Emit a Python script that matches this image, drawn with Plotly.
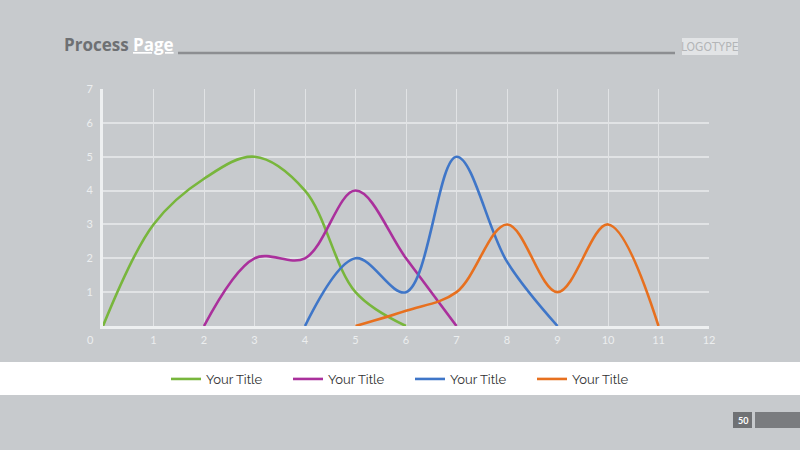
import plotly.graph_objects as go

# ---- data ----
green_x = [0, 1, 2, 3, 4, 5, 6]
green_y = [0, 3, 4.35, 5, 4, 1, 0]
purple_x = [2, 3, 4, 5, 6, 7]
purple_y = [0, 2, 2, 4, 2, 0]
blue_x = [4, 5, 6, 7, 8, 9]
blue_y = [0, 2, 1, 5, 1.9, 0]
orange_x = [5, 6, 7, 8, 9, 10, 11]
orange_y = [0, 0.45, 1, 3, 1, 3, 0]
series_names = ["Your Title", "Your Title", "Your Title", "Your Title"]
x_ticks = list(range(1, 13))
y_ticks = list(range(1, 8))

BG = "#c7cacd"
FONT = "Lato, 'Open Sans', sans-serif"
TICK_COL = "#eceeef"
GRID_COL = "#e1e3e5"

fig = go.Figure()
for xs, ys, col, name in [
    (green_x, green_y, "#78b63c", series_names[0]),
    (purple_x, purple_y, "#aa309c", series_names[1]),
    (blue_x, blue_y, "#3f76c8", series_names[2]),
    (orange_x, orange_y, "#e7701f", series_names[3]),
]:
    fig.add_trace(go.Scatter(x=xs, y=ys, mode="lines", name=name,
                             line=dict(color=col, width=2.6, shape="spline", smoothing=1.0),
                             cliponaxis=False))

fig.update_layout(
    width=800, height=450,
    margin=dict(l=0, r=0, t=0, b=0, pad=0, autoexpand=False),
    paper_bgcolor=BG, plot_bgcolor=BG,
    font=dict(family=FONT),
    showlegend=True,
    legend=dict(orientation="h", x=0.5125, xanchor="center", y=(450 - 379) / 450, yanchor="middle",
                bgcolor="rgba(0,0,0,0)", font=dict(size=13, color="#333333", family="Raleway, Lato, sans-serif"),
                entrywidth=77, entrywidthmode="pixels", itemwidth=30),
    xaxis=dict(domain=[103 / 800, 709 / 800], range=[0, 12], tickvals=x_ticks, automargin=False,
               showgrid=False, zeroline=False, showline=True, linecolor="#eef0f1", linewidth=3,
               ticks="outside", ticklen=2, tickcolor="rgba(0,0,0,0)",
               tickfont=dict(size=11, color=TICK_COL, family=FONT),
               minor=dict(tickvals=list(range(1, 12)), showgrid=True, gridcolor=GRID_COL, gridwidth=1.2,
                          ticks="")),
    yaxis=dict(domain=[(450 - 326) / 450, (450 - 89) / 450], range=[0, 7], tickvals=y_ticks, automargin=False,
               showgrid=False, zeroline=False, showline=True, linecolor="#eef0f1", linewidth=3,
               ticks="outside", ticklen=5, tickcolor="rgba(0,0,0,0)",
               tickfont=dict(size=11, color=TICK_COL, family=FONT),
               minor=dict(tickvals=list(range(1, 7)), showgrid=True, gridcolor=GRID_COL, gridwidth=1.6,
                          ticks="")),
)

shapes = [
    # legend band
    dict(type="rect", xref="paper", yref="paper", x0=0, x1=1, y0=(450 - 395) / 450, y1=(450 - 362) / 450,
         fillcolor="#ffffff", line=dict(width=0), layer="below"),
    # header line
    dict(type="line", xref="paper", yref="paper", x0=178 / 800, x1=675 / 800,
         y0=(450 - 53) / 450, y1=(450 - 53) / 450, line=dict(color="#8c8e91", width=2.5)),
    # logotype box
    dict(type="rect", xref="paper", yref="paper", x0=682 / 800, x1=738 / 800,
         y0=(450 - 55) / 450, y1=(450 - 38) / 450, fillcolor="#e2e4e6", line=dict(width=0)),
    # page number box
    dict(type="rect", xref="paper", yref="paper", x0=733 / 800, x1=752 / 800,
         y0=(450 - 428) / 450, y1=(450 - 412) / 450, fillcolor="#6f7174", line=dict(width=0)),
    dict(type="rect", xref="paper", yref="paper", x0=755 / 800, x1=1,
         y0=(450 - 428) / 450, y1=(450 - 412) / 450, fillcolor="#7a7c7f", line=dict(width=0)),
]
fig.update_layout(shapes=shapes)

annotations = [
    dict(xref="paper", yref="paper", x=62 / 800, y=(450 - 45) / 450, xanchor="left", yanchor="middle",
         showarrow=False,
         text="<b><span style='color:#6e7073'>Process</span> <span style='color:#ffffff'><u>Page</u></span></b>",
         font=dict(size=17, family="'Open Sans', Lato, sans-serif", weight=800)),
    dict(xref="paper", yref="paper", x=710 / 800, y=(450 - 46.5) / 450, xanchor="center", yanchor="middle",
         showarrow=False, text="LOGOTYPE",
         font=dict(size=12, color="#b3b5b7", family="DejaVu Sans Condensed, Roboto, sans-serif")),
    dict(xref="paper", yref="paper", x=742.5 / 800, y=(450 - 420) / 450, xanchor="center", yanchor="middle",
         showarrow=False, text="<b>50</b>", font=dict(size=9, color="#ffffff", family=FONT)),
    dict(xref="paper", yref="paper", x=90 / 800, y=(450 - 339) / 450, xanchor="center", yanchor="middle",
         showarrow=False, text="0", font=dict(size=11, color=TICK_COL, family=FONT)),
]
fig.update_layout(annotations=annotations)

fig.write_html("out.html")
